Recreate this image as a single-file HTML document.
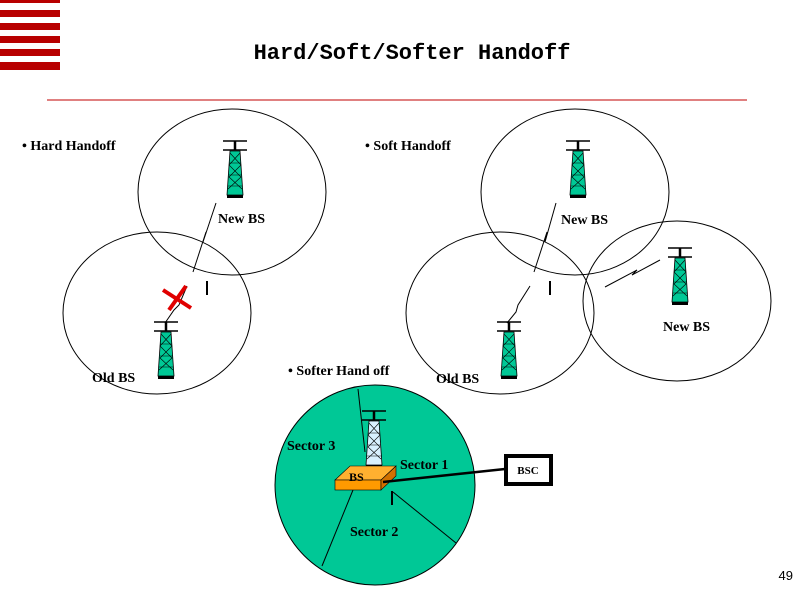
<!DOCTYPE html>
<html><head><style>
body{margin:0;background:#fff;}
svg{display:block}
text{font-family:"Liberation Serif",serif;font-weight:bold;font-size:14px;}
</style></head><body>
<svg width="800" height="600" viewBox="0 0 800 600" xmlns="http://www.w3.org/2000/svg">
<defs>
<g id="tw">
<line x1="-12" y1="0" x2="12" y2="0" stroke="#000" stroke-width="1.5"/>
<line x1="0" y1="0" x2="0" y2="9" stroke="#000" stroke-width="2.5"/>
<line x1="-12" y1="9" x2="12" y2="9" stroke="#000" stroke-width="1.5"/>
<path d="M-5,10 L5,10 L8,54 L-8,54 Z" fill="#00c896" stroke="#000" stroke-width="0.8"/>
<path d="M-5,12 L6,24 L-6,36 L7,48 M5,12 L-6,24 L6,36 L-7,48 M-6,22 H6 M-6,34 H7 M-7,45 H7" fill="none" stroke="#000" stroke-width="0.6"/>
<rect x="-8" y="54" width="16" height="3" fill="#000"/>
</g>
<g id="twb">
<line x1="-12" y1="0" x2="12" y2="0" stroke="#000" stroke-width="1.5"/>
<line x1="0" y1="0" x2="0" y2="9" stroke="#000" stroke-width="2.5"/>
<line x1="-12" y1="9" x2="12" y2="9" stroke="#000" stroke-width="1.5"/>
<path d="M-5,10 L5,10 L8,54 L-8,54 Z" fill="#d8f0ff" stroke="#000" stroke-width="0.8"/>
<path d="M-5,12 L6,24 L-6,36 L7,48 M5,12 L-6,24 L6,36 L-7,48 M-6,22 H6 M-6,34 H7 M-7,45 H7" fill="none" stroke="#000" stroke-width="0.6"/>
<rect x="-8" y="54" width="16" height="3" fill="#000"/>
</g>
</defs>
<g fill="#b80000">
<rect x="0" y="0" width="60" height="3"/><rect x="0" y="10" width="60" height="7"/><rect x="0" y="23" width="60" height="7"/><rect x="0" y="36" width="60" height="7"/><rect x="0" y="49" width="60" height="7"/><rect x="0" y="62" width="60" height="8"/>
</g>
<text x="412" y="59" text-anchor="middle" style="font-family:'Liberation Mono',monospace;font-weight:bold;font-size:22px">Hard/Soft/Softer Handoff</text>
<line x1="47" y1="100" x2="747" y2="100" stroke="#c00000" stroke-width="1"/>
<g fill="none" stroke="#000" stroke-width="1">
<ellipse cx="232" cy="192" rx="94" ry="83"/>
<ellipse cx="157" cy="313" rx="94" ry="81"/>
<ellipse cx="575" cy="192" rx="94" ry="83"/>
<ellipse cx="500" cy="313" rx="94" ry="81"/>
<ellipse cx="677" cy="301" rx="94" ry="80"/>
</g>
<circle cx="375" cy="485" r="100" fill="#00c896" stroke="#000"/>
<g stroke="#000" stroke-width="1" fill="none">
<line x1="358" y1="389" x2="365" y2="452"/>
<line x1="353" y1="490" x2="322" y2="566"/>
<line x1="393" y1="492" x2="456" y2="543"/>
<path d="M216,203 L203,242 L206,232 L193,272"/>
<path d="M187,286 L179,305 L174,310 L165,323"/>
<path d="M556,203 L545,242 L547,232 L534,272"/>
<path d="M530,286 L518,305 L516,312 L507,323"/>
<path d="M660,260 L632,275 L637,270 L605,287"/>
</g>
<g stroke="#000" stroke-width="2"><line x1="207" y1="281" x2="207" y2="295"/><line x1="550" y1="281" x2="550" y2="295"/><line x1="392" y1="491" x2="392" y2="505"/></g>
<g stroke="#e00000" stroke-width="4"><line x1="163" y1="290" x2="191" y2="308"/><line x1="169" y1="310" x2="186" y2="286"/></g>
<use href="#tw" x="235" y="141"/>
<use href="#tw" x="166" y="322"/>
<use href="#tw" x="578" y="141"/>
<use href="#tw" x="509" y="322"/>
<use href="#tw" x="680" y="248"/>
<use href="#twb" x="374" y="411"/>
<path d="M335,480 L350,466 L396,466 L381,480 Z" fill="#ffb030" stroke="#000" stroke-width="0.6"/>
<rect x="335" y="480" width="46" height="10" fill="#ff9a00" stroke="#000" stroke-width="0.6"/>
<path d="M381,480 L396,466 L396,476 L381,490 Z" fill="#d07000" stroke="#000" stroke-width="0.6"/>
<line x1="383" y1="482" x2="505" y2="469" stroke="#000" stroke-width="2.5"/>
<rect x="506" y="456" width="45" height="28" fill="#fff" stroke="#000" stroke-width="4"/>
<text x="528" y="474" text-anchor="middle" style="font-size:11px">BSC</text>
<text x="349" y="481" style="font-size:12px">BS</text>
<text x="22" y="150">• Hard Handoff</text>
<text x="365" y="150">• Soft Handoff</text>
<text x="288" y="375">• Softer Hand off</text>
<text x="218" y="223">New BS</text>
<text x="561" y="224">New BS</text>
<text x="663" y="331">New BS</text>
<text x="92" y="382">Old BS</text>
<text x="436" y="383">Old BS</text>
<text x="287" y="450">Sector 3</text>
<text x="400" y="469">Sector 1</text>
<text x="350" y="536">Sector 2</text>
<text x="793" y="580" text-anchor="end" style="font-family:'Liberation Sans',sans-serif;font-weight:normal;font-size:13px">49</text>
</svg>
</body></html>
